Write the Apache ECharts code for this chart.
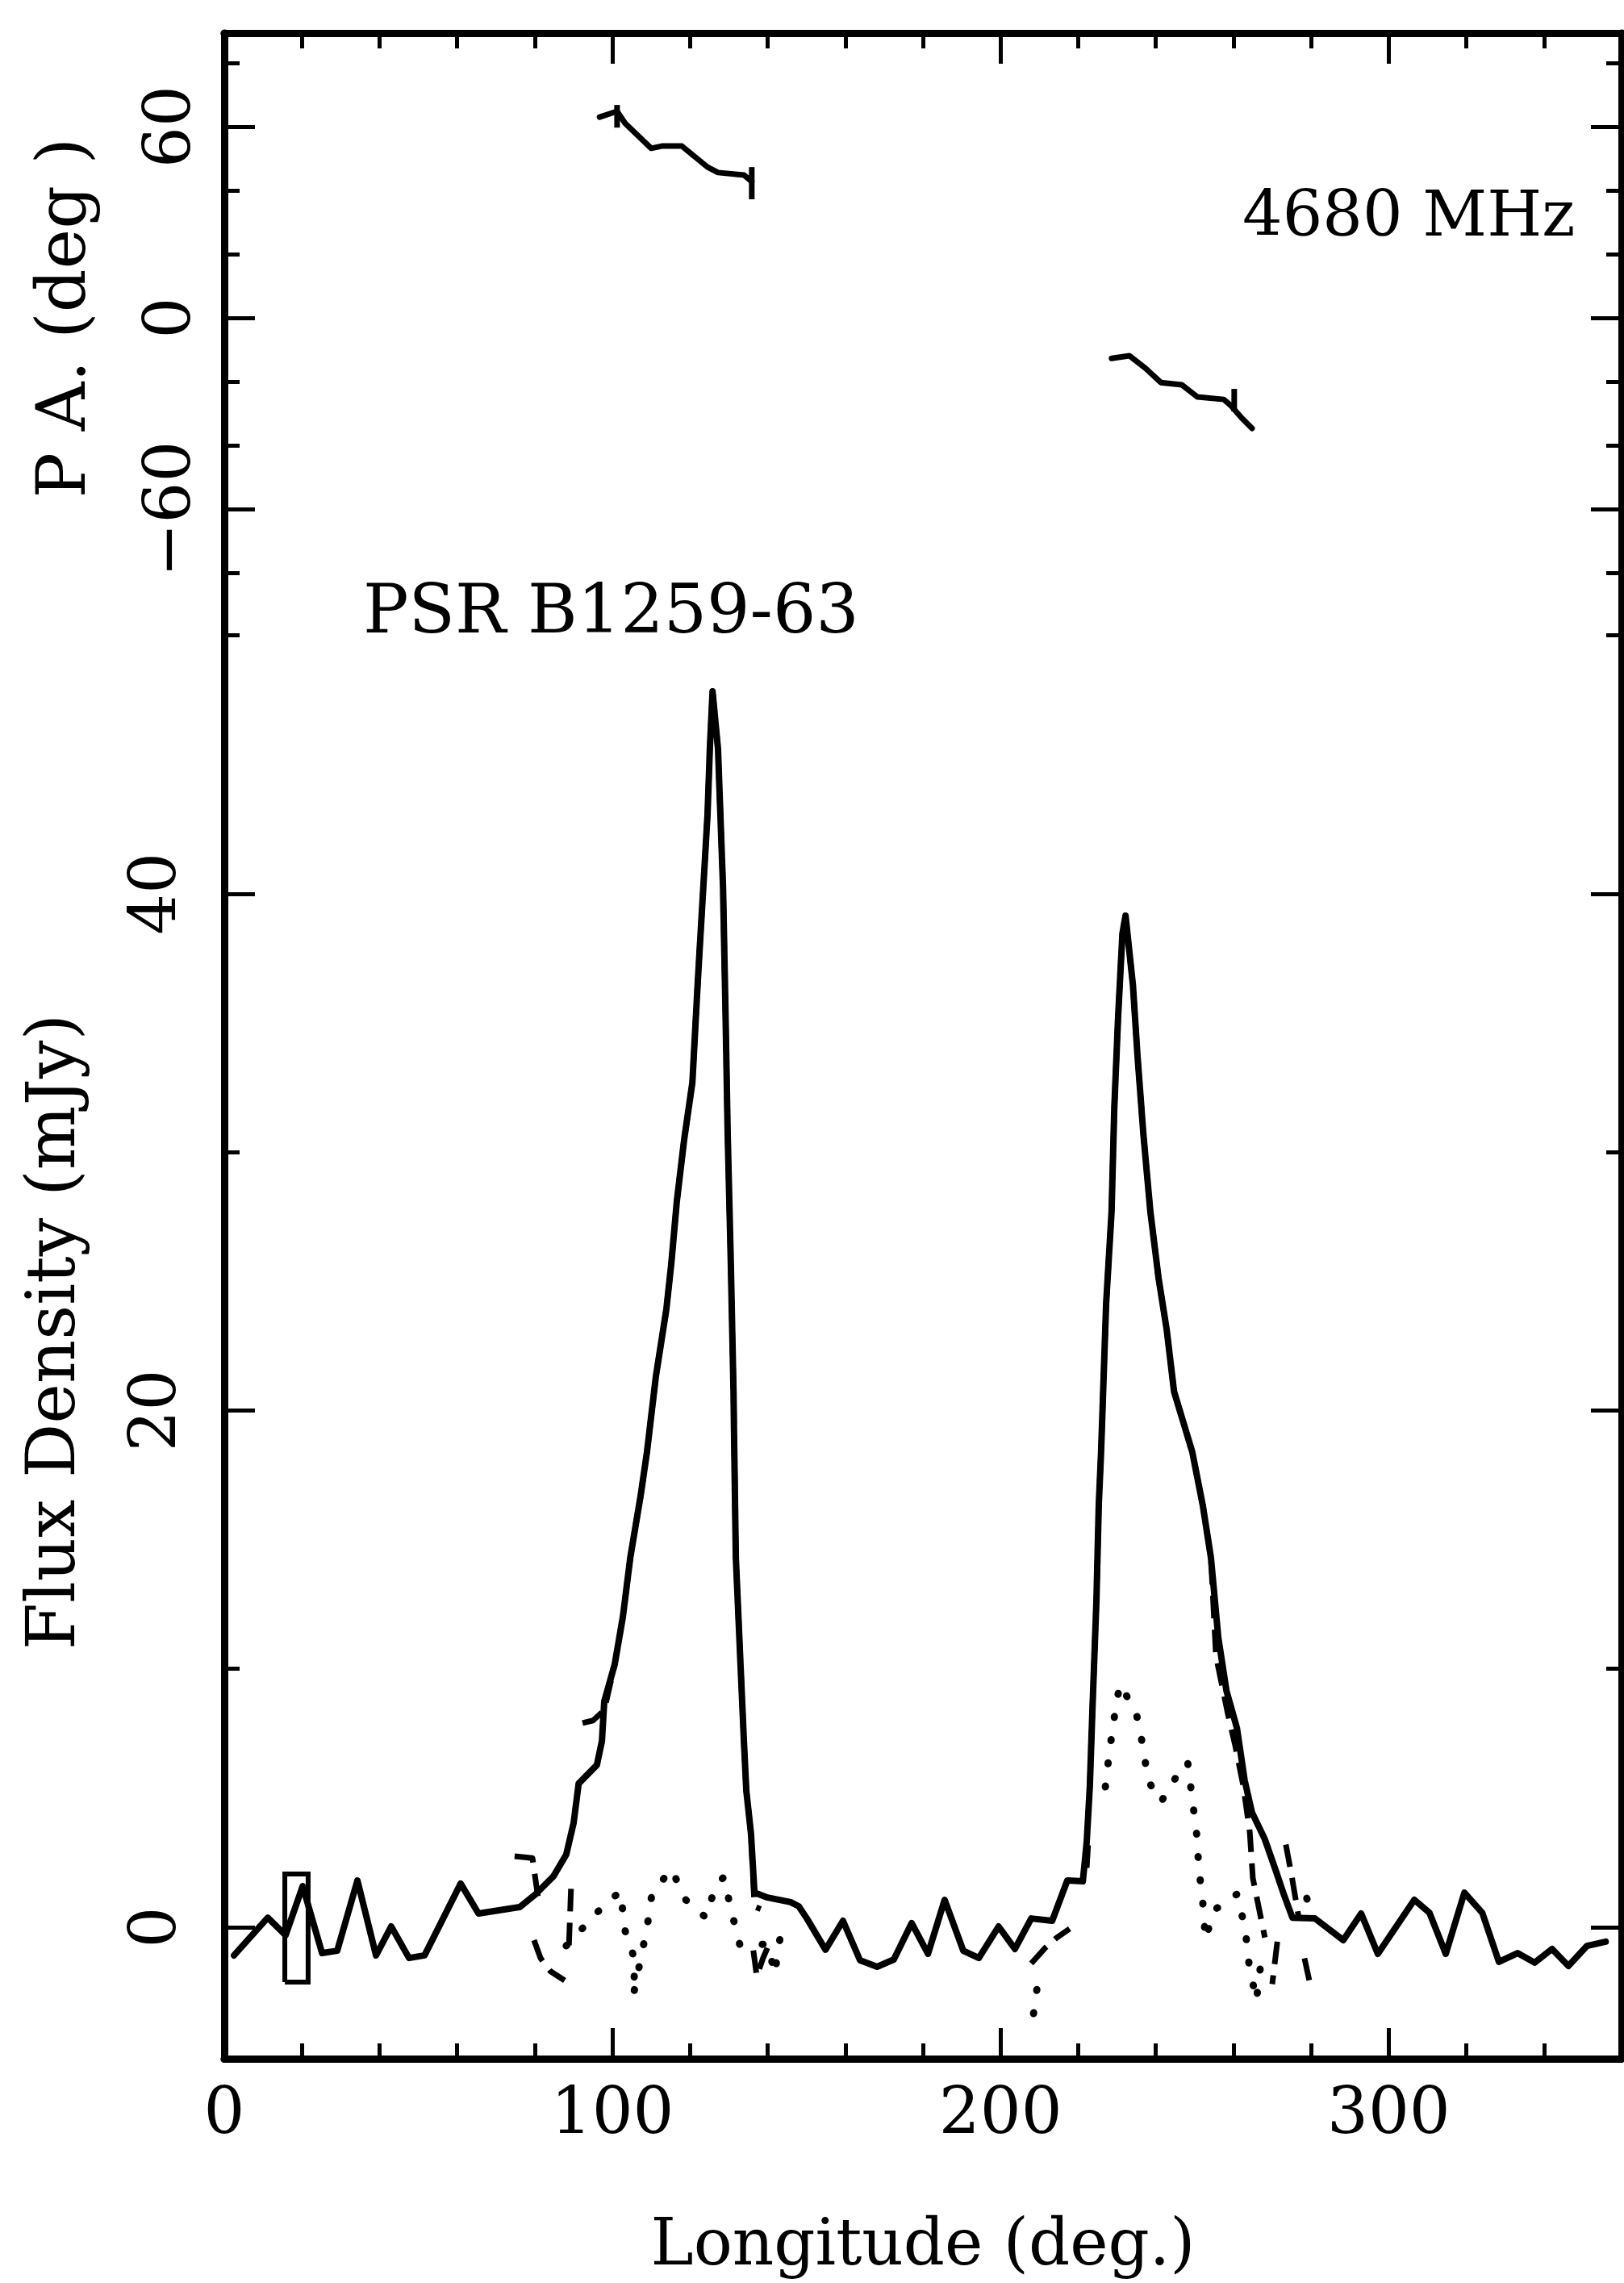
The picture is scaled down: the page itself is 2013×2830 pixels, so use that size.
<!DOCTYPE html>
<html><head><meta charset="utf-8">
<style>html,body{margin:0;padding:0;background:#fff}#c{width:2013px;height:2830px}</style>
<script src="https://cdn.jsdelivr.net/npm/echarts@6/dist/echarts.min.js"></script>
</head><body><div id="c"></div>
<script>
// ---------------- data ----------------
const LONGITUDE_TICK_LABELS = [0, 100, 200, 300];
const FLUX_TICK_LABELS = [0, 20, 40];
const PA_TICK_LABELS = [-60, 0, 60];

// Total intensity (solid)
const I_LON = [2.5, 11.2, 15.8, 20.2, 25.2, 29.1, 34.3, 39.1, 43.0, 47.6, 51.6, 60.9, 65.5, 73.4, 76.1, 80.0, 84.8, 88.1, 90.0, 91.3, 96.0, 97.3, 97.9, 100.6, 102.7, 104.6, 107.3, 108.9, 111.2, 113.9, 115.2, 116.6, 118.5, 120.6, 121.8, 122.4, 123.5, 124.5, 125.1, 125.8, 127.2, 128.5, 129.1, 129.7, 130.5, 131.2, 131.4, 131.8, 133.0, 133.9, 134.5, 135.7, 136.6, 139.7, 145.9, 148.0, 150.1, 154.9, 159.4, 163.8, 168.2, 172.5, 177.1, 181.3, 185.6, 190.4, 194.4, 199.5, 203.7, 207.9, 213.3, 217.2, 221.2, 222.2, 223.0, 223.7, 224.7, 225.3, 225.9, 227.2, 228.6, 229.3, 230.3, 231.4, 232.2, 234.1, 235.3, 236.8, 238.6, 240.7, 242.8, 244.7, 249.4, 252.1, 254.2, 256.1, 258.2, 260.9, 262.9, 264.8, 268.1, 271.0, 273.1, 275.2, 281.0, 288.3, 292.9, 297.2, 306.6, 310.5, 314.7, 319.5, 324.1, 328.4, 333.2, 337.6, 342.1, 346.3, 351.1, 355.9];
const I_FLUX = [-1.09, 0.37, -0.31, 1.59, -1.00, -0.91, 1.81, -1.09, 0.03, -1.19, -1.09, 1.69, 0.53, 0.72, 0.78, 1.25, 1.97, 2.81, 4.03, 5.56, 6.28, 7.21, 8.74, 10.18, 12.02, 14.30, 16.73, 18.39, 21.32, 23.92, 25.73, 28.10, 30.50, 32.69, 36.06, 37.65, 40.46, 43.05, 45.61, 47.83, 45.61, 40.24, 35.69, 30.69, 25.73, 20.73, 18.39, 14.30, 10.18, 7.12, 5.28, 3.62, 1.34, 1.16, 0.97, 0.81, 0.34, -0.87, 0.25, -1.28, -1.53, -1.25, 0.16, -1.03, 1.06, -0.91, -1.19, 0.03, -0.84, 0.34, 0.25, 1.81, 1.78, 3.31, 5.46, 8.55, 12.64, 16.33, 18.39, 24.13, 27.69, 31.69, 35.28, 38.46, 39.15, 36.47, 33.69, 30.69, 27.69, 25.13, 23.13, 20.73, 18.39, 16.33, 14.30, 11.21, 9.15, 7.71, 5.68, 4.43, 3.40, 2.15, 1.22, 0.37, 0.34, -0.50, 0.53, -1.03, 1.06, 0.56, -1.03, 1.34, 0.56, -1.34, -1.00, -1.37, -0.84, -1.50, -0.72, -0.56];

// Linear polarisation (dashed); null = gap
const L_LON = [74.8, 79.4, 80.8, null, 79.8, 81.5, 84.0, 87.7, null, 88.8, 89.4, null, 92.3, 95.0, 97.9, 100.6, 102.7, 104.6, 107.3, 108.9, 111.2, 113.9, 115.2, 116.6, 118.5, 120.6, 121.8, 122.4, 123.5, 124.5, 125.1, 125.8, 127.2, 128.5, 129.1, 129.7, 130.5, 131.2, 131.8, 133.0, 133.9, 134.5, 135.7, 136.6, 138.2, null, 136.3, 137.2, 138.8, 140.5, null,
  207.9, 211.5, 214.5, 217.8, null, 222.2, 222.6, null, 223.0, 223.7, 224.7, 225.3, 225.9, 227.2, 228.6, 229.3, 230.3, 231.4, 232.2, 234.1, 235.3, 236.8, 238.6, 240.7, 242.8, 244.7, 249.4, 252.1, 254.2, 255.5, 258.5, 260.5, 262.5, 264.2, 265.0, 268.1, null, 271.3, 270.0, null, 273.5, 275.0, 276.9, null, 278.3, 279.6];
const L_FLUX = [2.75, 2.68, 1.2, null, -0.5, -1.2, -1.7, -2.06, null, -0.7, 1.8, null, 7.9, 8.0, 8.4, 10.18, 12.02, 14.30, 16.73, 18.39, 21.32, 23.92, 25.73, 28.10, 30.50, 32.69, 36.06, 37.65, 40.46, 43.05, 45.61, 47.83, 45.61, 40.24, 35.69, 30.69, 25.73, 20.73, 14.30, 10.18, 7.12, 5.28, 3.62, 0.8, 0.7, null, -0.9, -1.9, -1.2, -0.6, null,
  -1.4, -0.8, -0.4, -0.06, null, 2.3, 3.3, null, 5.46, 8.55, 12.64, 16.33, 18.39, 24.13, 27.69, 31.69, 35.28, 38.46, 39.15, 36.47, 33.69, 30.69, 27.69, 25.13, 23.13, 20.73, 18.39, 16.33, 14.30, 10.5, 8.3, 7.0, 5.5, 3.7, 1.9, -0.4, null, -0.56, -2.2, null, 3.2, 2.0, 0.3, null, -1.2, -2.1];

// Circular polarisation (dotted); null = gap
const V_LON = [88.1, 99.1, 102.3, 102.9, 105.8, 105.4, 108.9, 110.2, 115.2, 118.9, 124.1, 126.6, 128.7, 130.7, 132.8, 140.1, 141.8, 143.2, null,
  208.5, 209.7, null, 227.0, 228.0, 229.3, 230.7, 234.9, 236.7, 238.0, 241.3, 245.7, 248.2, 249.4, 250.5, 251.1, 252.1, 252.8, 255.0, 260.9, 263.0, 264.0, 265.9, 266.9, null, 278.9, 279.3];
const V_FLUX = [-0.72, 1.06, 1.37, 0.03, -1.28, -2.62, -0.03, 1.31, 2.25, 1.06, 0.37, 1.62, 1.94, 0.59, -0.66, -0.66, -1.81, -0.41, null,
  -3.34, -2.03, null, 5.43, 6.74, 8.12, 9.40, 8.34, 6.99, 5.68, 4.84, 5.93, 6.40, 4.96, 3.65, 2.28, 0.97, -0.47, 0.66, 1.28, -0.03, -1.40, -2.84, -1.59, null, 1.12, 0.9];

// Position angle (deg)
const PA_LON = [96.7, 101.2, 103.3, 110.0, 112.7, 117.9, 124.5, 127.2, 133.9, 135.9, null,
  228.6, 233.2, 237.4, 241.3, 246.7, 250.7, 257.5, 259.4, 262.1, 264.8];
const PA_VAL = [63.0, 64.8, 61.0, 53.2, 53.9, 53.9, 47.3, 45.6, 44.8, 42.8, null,
  -12.7, -11.9, -15.9, -20.3, -21.0, -24.8, -25.6, -27.6, -31.4, -34.7];
const PA_ERR_LON = [101.2, 135.9, 260.2];
const PA_ERR_LO = [59.7, 37.2, -29.4];
const PA_ERR_HI = [66.8, 47.3, -22.3];

// Noise / resolution box
const BOX_LON = [15.6, 21.6];
const BOX_FLUX = [-2.12, 2.06];

// ---------------- layout ----------------
const W = 2013, H = 2830;
const LEFT = 278, RIGHT = 3;
const FRAME_TOP = 41, FRAME_BOTTOM = 2552;
const FLUX0_Y = 2389, FLUX_PX = 32.03;   // px per mJy
const PA0_Y = 394, PA_PX = 3.95;         // px per deg
const FONT = '"DejaVu Serif", "Liberation Serif", serif';
const BLACK = '#000';

const fluxMin = (FLUX0_Y - FRAME_BOTTOM) / FLUX_PX;
const fluxMax = (FLUX0_Y - FRAME_TOP) / FLUX_PX;
const paMin = (PA0_Y - FRAME_BOTTOM) / PA_PX;
const paMax = (PA0_Y - FRAME_TOP) / PA_PX;

function gridBox(topPx, bottomPx) {
  return { left: LEFT, right: RIGHT, top: topPx, bottom: H - bottomPx, containLabel: false, outerBoundsMode: 'none' };
}
const grids = [
  gridBox(FRAME_TOP, FRAME_BOTTOM),                           // 0 main
  gridBox(PA0_Y - 80 * PA_PX, PA0_Y + 80 * PA_PX),            // 1 PA minor ticks
  gridBox(PA0_Y - 60 * PA_PX, PA0_Y + 60 * PA_PX),            // 2 PA major ticks
  gridBox(FLUX0_Y - 50 * FLUX_PX, FLUX0_Y),                   // 3 flux minor ticks
  gridBox(FLUX0_Y - 40 * FLUX_PX, FLUX0_Y),                   // 4 flux major ticks
  gridBox(1259, 2043)                                         // 5 flux axis name
];

const lineW = 9, tickW = 5, longTick = 38, shortTick = 19;
const labelStyle = { color: BLACK, fontFamily: FONT, fontSize: 80 };
const fmtNum = v => (v < 0 ? '\u2212' + Math.abs(v) : String(v));

function xTickAxis(pos, interval, len, showLabel) {
  return {
    type: 'value', gridIndex: 0, position: pos, min: 0, max: 360, interval: interval,
    axisLine: { show: true, onZero: false, lineStyle: { color: BLACK, width: lineW } },
    axisTick: { show: true, inside: true, length: len, lineStyle: { color: BLACK, width: tickW } },
    splitLine: { show: false },
    axisLabel: showLabel ? {
      show: true, margin: 31, ...labelStyle, showMaxLabel: false,
      formatter: v => LONGITUDE_TICK_LABELS.includes(v) ? fmtNum(v) : ''
    } : { show: false }
  };
}
function hiddenX(g) {
  return { type: 'value', gridIndex: g, min: 0, max: 360, show: false };
}
function yTickAxis(g, pos, min, max, interval, len, labels, margin) {
  return {
    type: 'value', gridIndex: g, position: pos, min: min, max: max, interval: interval,
    axisLine: { show: false },
    axisTick: { show: true, inside: true, length: len, lineStyle: { color: BLACK, width: tickW } },
    splitLine: { show: false },
    axisLabel: labels ? {
      show: true, rotate: 90, margin: margin, ...labelStyle,
      formatter: v => labels.includes(v) ? fmtNum(v) : ''
    } : { show: false }
  };
}

const xAxes = [
  xTickAxis('bottom', 20, shortTick, false),
  Object.assign(xTickAxis('bottom', 100, longTick, true), {
    name: 'Longitude (deg.)', nameLocation: 'middle', nameGap: 194,
    nameTextStyle: { color: BLACK, fontFamily: FONT, fontSize: 80 }
  }),
  xTickAxis('top', 20, shortTick, false),
  xTickAxis('top', 100, longTick, false),
  hiddenX(1), hiddenX(2), hiddenX(3), hiddenX(4), hiddenX(5)
];

const yAxes = [
  // 0: flux data axis (left frame line)
  { type: 'value', gridIndex: 0, position: 'left', min: fluxMin, max: fluxMax,
    axisLine: { show: true, onZero: false, lineStyle: { color: BLACK, width: lineW } },
    axisTick: { show: false }, axisLabel: { show: false }, splitLine: { show: false } },
  // 1: right frame line
  { type: 'value', gridIndex: 0, position: 'right', min: fluxMin, max: fluxMax,
    axisLine: { show: true, onZero: false, lineStyle: { color: BLACK, width: lineW } },
    axisTick: { show: false }, axisLabel: { show: false }, splitLine: { show: false } },
  // 2: PA data axis (hidden)
  { type: 'value', gridIndex: 0, position: 'left', min: paMin, max: paMax, show: false },
  // 3,4: PA minor ticks
  yTickAxis(1, 'left', -80, 80, 20, shortTick, null, 0),
  yTickAxis(1, 'right', -80, 80, 20, shortTick, null, 0),
  // 5,6: PA major ticks + labels
  Object.assign(yTickAxis(2, 'left', -60, 60, 60, longTick, PA_TICK_LABELS, 24), {
    name: 'P A. (deg )', nameLocation: 'middle', nameRotate: 90, nameGap: 153,
    nameTextStyle: { color: BLACK, fontFamily: FONT, fontSize: 84 }
  }),
  yTickAxis(2, 'right', -60, 60, 60, longTick, null, 0),
  // 7,8: flux minor ticks
  yTickAxis(3, 'left', 0, 50, 10, shortTick, null, 0),
  yTickAxis(3, 'right', 0, 50, 10, shortTick, null, 0),
  // 9,10: flux major ticks + labels
  yTickAxis(4, 'left', 0, 40, 20, longTick, FLUX_TICK_LABELS, 42),
  yTickAxis(4, 'right', 0, 40, 20, longTick, null, 0),
  // 11: flux axis name only
  { type: 'value', gridIndex: 5, position: 'left', min: 0, max: 1,
    axisLine: { show: false }, axisTick: { show: false }, axisLabel: { show: false }, splitLine: { show: false },
    name: 'Flux Density (mJy)', nameLocation: 'middle', nameRotate: 90, nameGap: 166,
    nameTextStyle: { color: BLACK, fontFamily: FONT, fontSize: 84 } }
];

function pairs(xs, ys) {
  return xs.map((x, i) => (x === null || ys[i] === null) ? ['-', '-'] : [x, ys[i]]);
}
const boxData = [
  [BOX_LON[0], BOX_FLUX[0]], [BOX_LON[1], BOX_FLUX[0]], [BOX_LON[1], BOX_FLUX[1]],
  [BOX_LON[0], BOX_FLUX[1]], [BOX_LON[0], BOX_FLUX[0]]
];
const errData = PA_ERR_LON.map((x, i) => [x, PA_ERR_LO[i], PA_ERR_HI[i]]);

const baseLine = { type: 'line', xAxisIndex: 0, symbol: 'none', showSymbol: false, clip: false,
  connectNulls: false, animation: false, silent: true };

const series = [
  Object.assign({}, baseLine, { name: 'I', yAxisIndex: 0, data: pairs(I_LON, I_FLUX),
    lineStyle: { color: BLACK, width: 8, join: 'round', cap: 'round' } }),
  Object.assign({}, baseLine, { name: 'L', yAxisIndex: 0, data: pairs(L_LON, L_FLUX),
    lineStyle: { color: BLACK, width: 7, type: [28, 14], join: 'round' } }),
  Object.assign({}, baseLine, { name: 'V', yAxisIndex: 0, data: pairs(V_LON, V_FLUX),
    lineStyle: { color: BLACK, width: 9, type: [1, 28], cap: 'round' } }),
  Object.assign({}, baseLine, { name: 'PA', yAxisIndex: 2, data: pairs(PA_LON, PA_VAL),
    lineStyle: { color: BLACK, width: 7, join: 'round', cap: 'round' } }),
  Object.assign({}, baseLine, { name: 'box', yAxisIndex: 0, data: boxData,
    lineStyle: { color: BLACK, width: 6, join: 'miter' } }),
  { type: 'custom', name: 'PA error', xAxisIndex: 0, yAxisIndex: 2, data: errData, animation: false, silent: true,
    encode: { x: 0, y: [1, 2] },
    renderItem: function (params, api) {
      const a = api.coord([api.value(0), api.value(1)]);
      const b = api.coord([api.value(0), api.value(2)]);
      return { type: 'line', shape: { x1: a[0], y1: a[1], x2: b[0], y2: b[1] },
        style: { stroke: BLACK, lineWidth: 7 } };
    } }
];

const chart = echarts.init(document.getElementById('c'), null, { renderer: 'canvas', width: W, height: H });
chart.setOption({
  backgroundColor: '#fff',
  animation: false,
  grid: grids,
  xAxis: xAxes,
  yAxis: yAxes,
  series: series,
  graphic: [
    { type: 'text', x: 450, y: 720, silent: true,
      style: { text: 'PSR B1259-63', fill: BLACK, font: '84px ' + FONT, align: 'left', verticalAlign: 'top' } },
    { type: 'text', x: 1540, y: 233, silent: true,
      style: { text: '4680 MHz', fill: BLACK, font: '78px ' + FONT, align: 'left', verticalAlign: 'top' } }
  ]
});
</script></body></html>
